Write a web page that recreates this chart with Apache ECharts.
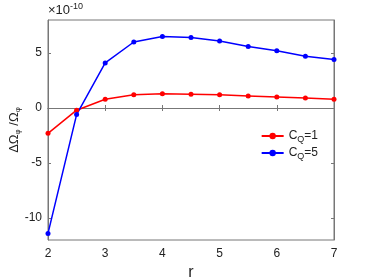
<!DOCTYPE html>
<html>
<head>
<meta charset="utf-8">
<script src="https://cdn.jsdelivr.net/npm/echarts@6/dist/echarts.min.js"></script>
<style>html,body{margin:0;padding:0;background:#fff}#container{width:369px;height:277px}</style>
</head>
<body>
<div id="container"></div>
<script>
var r = [2, 2.5, 3, 3.5, 4, 4.5, 5, 5.5, 6, 6.5, 7];
var cq1 = [-2.3, -0.2, 0.8, 1.2, 1.3, 1.25, 1.2, 1.1, 1.0, 0.9, 0.8];
var cq5 = [-11.4, -0.6, 4.1, 6.0, 6.5, 6.4, 6.1, 5.6, 5.2, 4.7, 4.4];
var yTicks = [-10, -5, 0, 5];

var dom = document.getElementById('container');
var myChart = echarts.init(dom);

function pairs(ys) {
  return r.map(function (x, i) { return [x, ys[i]]; });
}

var axisGray = '#777';
var font = 'Liberation Sans';

var option = {
  animation: false,
  grid: {
    left: 48, right: 35, top: 20, bottom: 37, show: true, borderColor: axisGray, borderWidth: 1,
    outerBoundsMode: 'none'
  },
  xAxis: [{
    type: 'value', min: 2, max: 7, interval: 1,
    axisLine: { lineStyle: { color: axisGray } },
    axisTick: { inside: true, length: 3, lineStyle: { color: axisGray } },
    axisLabel: { color: '#222', fontSize: 12, fontFamily: font, margin: 8 },
    splitLine: { show: false },
    name: 'r', nameLocation: 'middle', nameGap: 25,
    nameTextStyle: { color: '#222', fontSize: 16, fontFamily: font }
  }, {
    type: 'value', min: 2, max: 7, interval: 1, position: 'top',
    axisLine: { lineStyle: { color: axisGray } },
    axisTick: { inside: true, length: 3, lineStyle: { color: axisGray } },
    axisLabel: { show: false }, splitLine: { show: false }
  }],
  yAxis: [{
    type: 'value', min: -12, max: 8,
    axisLine: { lineStyle: { color: axisGray } },
    axisTick: { inside: true, length: 3, customValues: yTicks, lineStyle: { color: axisGray } },
    axisLabel: { color: '#222', fontSize: 12, fontFamily: font, customValues: yTicks, margin: 6 },
    splitLine: { show: false },
    name: '{a|ΔΩ}{s|φ}{a| /Ω}{s|φ}', nameLocation: 'middle', nameGap: 26, nameRotate: 90,
    nameMoveOverlap: false,
    nameTextStyle: {
      rich: {
        a: { fontSize: 13, fontFamily: font, color: '#222' },
        s: { fontSize: 8, fontFamily: font, color: '#222', padding: [7, 0, 0, 0] }
      }
    }
  }, {
    type: 'value', min: -12, max: 8, position: 'right',
    axisLine: { lineStyle: { color: axisGray } },
    axisTick: { inside: true, length: 3, customValues: yTicks, lineStyle: { color: axisGray } },
    axisLabel: { show: false }, splitLine: { show: false }
  }],
  legend: {
    right: 46, top: 125, orient: 'vertical', itemGap: 3,
    itemWidth: 22, itemHeight: 8,
    textStyle: {
      fontSize: 12, fontFamily: font, color: '#222',
      rich: {
        a: { fontSize: 12, fontFamily: font, color: '#222' },
        s: { fontSize: 9, fontFamily: font, color: '#222', padding: [7, 0, 0, 0] }
      }
    },
    formatter: function (n) { return n === 'c1' ? '{a|C}{s|Q}{a|=1}' : '{a|C}{s|Q}{a|=5}'; },
    data: ['c1', 'c5']
  },
  graphic: [{
    type: 'text', left: 48, top: 2,
    style: {
      text: '{a|×10}{s|-10}', fill: '#222',
      rich: {
        a: { fontSize: 13, fontFamily: font, fill: '#222' },
        s: { fontSize: 9, fontFamily: font, fill: '#222', padding: [0, 0, 7, 0] }
      }
    }
  }],
  series: [{
    name: 'c1', type: 'line', data: pairs(cq1),
    symbol: 'circle', symbolSize: 5,
    lineStyle: { color: '#ff0000', width: 1.5 }, itemStyle: { color: '#ff0000' }
  }, {
    name: 'c5', type: 'line', data: pairs(cq5),
    symbol: 'circle', symbolSize: 5,
    lineStyle: { color: '#0000ff', width: 1.5 }, itemStyle: { color: '#0000ff' }
  }]
};

if (option && typeof option === 'object') {
  myChart.setOption(option);
}
</script>
</body>
</html>
